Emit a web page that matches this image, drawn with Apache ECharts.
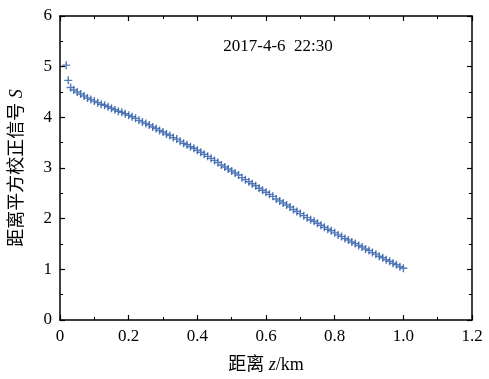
<!DOCTYPE html>
<html><head><meta charset="utf-8">
<script src="https://cdn.jsdelivr.net/npm/echarts@6/dist/echarts.min.js"></script>
<style>html,body{margin:0;padding:0;background:#fff}#c{width:489px;height:379px}</style>
</head><body><div id="c"></div>
<script>
var xTickLabels = ['0', '0.2', '0.4', '0.6', '0.8', '1.0', '1.2'];
var yTickLabels = ['0', '1', '2', '3', '4', '5', '6'];
var titleText = '2017-4-6  22:30';
var xName = '距离 {i|z}/km';
var yName = '距离平方校正信号 {i|S}';
var distance = [0.018, 0.024, 0.031,
  0.04, 0.05, 0.06, 0.07, 0.08, 0.09, 0.10, 0.11, 0.12, 0.13, 0.14, 0.15, 0.16, 0.17, 0.18, 0.19,
  0.20, 0.21, 0.22, 0.23, 0.24, 0.25, 0.26, 0.27, 0.28, 0.29, 0.30, 0.31, 0.32, 0.33, 0.34, 0.35,
  0.36, 0.37, 0.38, 0.39, 0.40, 0.41, 0.42, 0.43, 0.44, 0.45, 0.46, 0.47, 0.48, 0.49, 0.50, 0.51,
  0.52, 0.53, 0.54, 0.55, 0.56, 0.57, 0.58, 0.59, 0.60, 0.61, 0.62, 0.63, 0.64, 0.65, 0.66, 0.67,
  0.68, 0.69, 0.70, 0.71, 0.72, 0.73, 0.74, 0.75, 0.76, 0.77, 0.78, 0.79, 0.80, 0.81, 0.82, 0.83,
  0.84, 0.85, 0.86, 0.87, 0.88, 0.89, 0.90, 0.91, 0.92, 0.93, 0.94, 0.95, 0.96, 0.97, 0.98, 0.99, 1.00];
var signal = [5.03, 4.73, 4.59,
  4.54, 4.50, 4.46, 4.42, 4.38, 4.35, 4.32, 4.29, 4.26, 4.24, 4.21, 4.18, 4.15, 4.12, 4.10, 4.07,
  4.04, 4.01, 3.98, 3.94, 3.91, 3.88, 3.85, 3.81, 3.78, 3.74, 3.71, 3.67, 3.64, 3.60, 3.57, 3.53,
  3.49, 3.46, 3.42, 3.39, 3.35, 3.31, 3.27, 3.23, 3.19, 3.15, 3.11, 3.06, 3.02, 2.98, 2.94, 2.90,
  2.86, 2.81, 2.77, 2.73, 2.69, 2.65, 2.60, 2.56, 2.52, 2.48, 2.44, 2.39, 2.35, 2.31, 2.27, 2.23,
  2.18, 2.14, 2.10, 2.06, 2.02, 1.98, 1.95, 1.91, 1.87, 1.83, 1.79, 1.76, 1.72, 1.68, 1.65, 1.61,
  1.58, 1.54, 1.51, 1.47, 1.44, 1.40, 1.37, 1.33, 1.30, 1.26, 1.23, 1.19, 1.16, 1.12, 1.09, 1.05, 1.02];

var FONT = '"Liberation Serif", "DejaVu Serif", "Noto Sans CJK SC", serif';
var points = distance.map(function (x, i) { return [x, signal[i]]; });
function lab(arr, min, step) { return function (v) { var k = Math.round((v - min) / step); return arr[k] !== undefined ? arr[k] : ''; }; }

function axisBase(extra) {
  var a = {
    axisLine: { show: true, onZero: false, lineStyle: { color: '#000', width: 1.5 } },
    axisTick: { show: true, inside: true, length: 5, lineStyle: { color: '#000', width: 1.2 } },
    minorTick: { show: true, splitNumber: 2, length: 3, lineStyle: { color: '#000', width: 1 } },
    splitLine: { show: false },
    minorSplitLine: { show: false }
  };
  for (var k in extra) a[k] = extra[k];
  return a;
}

var chart = echarts.init(document.getElementById('c'), null, { renderer: 'canvas' });
chart.setOption({
  animation: false,
  backgroundColor: '#fff',
  title: {
    text: titleText, left: 273, top: 33, textAlign: 'center',
    textStyle: { fontFamily: FONT, fontSize: 17, fontWeight: 'normal', color: '#000' }
  },
  grid: { left: 60, right: 17, top: 16, bottom: 58 },
  xAxis: [
    axisBase({
      type: 'value', min: 0, max: 1.2, interval: 0.2, position: 'bottom',
      axisLabel: { formatter: lab(xTickLabels, 0, 0.2), color: '#000', fontFamily: FONT, fontSize: 17, margin: 8 },
      name: xName, nameLocation: 'middle', nameGap: 36,
      nameTextStyle: { fontFamily: FONT, fontSize: 18, color: '#000', rich: { i: { fontStyle: 'italic', fontFamily: FONT, fontSize: 18, color: '#000' } } }
    }),
    axisBase({
      type: 'value', min: 0, max: 1.2, interval: 0.2, position: 'top',
      axisLabel: { show: false }
    })
  ],
  yAxis: [
    axisBase({
      type: 'value', min: 0, max: 6, interval: 1, position: 'left',
      axisLabel: { formatter: lab(yTickLabels, 0, 1), color: '#000', fontFamily: FONT, fontSize: 17, margin: 8 },
      name: yName, nameLocation: 'middle', nameGap: 34, nameRotate: 90,
      nameTextStyle: { fontFamily: FONT, fontSize: 18, color: '#000', rich: { i: { fontStyle: 'italic', fontFamily: FONT, fontSize: 18, color: '#000' } } }
    }),
    axisBase({
      type: 'value', min: 0, max: 6, interval: 1, position: 'right',
      axisLabel: { show: false }
    })
  ],
  series: [{
    type: 'scatter',
    xAxisIndex: 0, yAxisIndex: 0,
    data: points,
    symbol: 'path://M4.1,0h1.8v10h-1.8z M0,4.1h10v1.8h-10z',
    symbolSize: 8,
    itemStyle: { color: '#2a5ba8' },
    silent: true
  }]
});
</script></body></html>
